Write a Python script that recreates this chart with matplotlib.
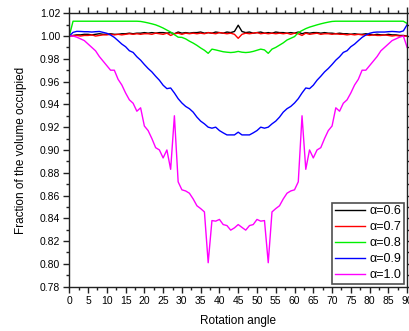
import matplotlib
matplotlib.use("Agg")
import matplotlib.pyplot as plt
from matplotlib.ticker import MultipleLocator

plt.rcParams['font.family'] = ['Liberation Sans', 'DejaVu Sans']

angles = list(range(0, 91))

labels = ["α=0.6", "α=0.7", "α=0.8", "α=0.9", "α=1.0"]
colors = ["#000000", "#ff0000", "#00f000", "#0000ff", "#ff00ff"]

a06 = [1.000, 1.0005, 1.001, 1.001, 1.0015, 1.0015, 1.001, 1.0015, 1.002, 1.0015,
       1.0015, 1.002, 1.0015, 1.0015, 1.002, 1.002, 1.0025, 1.002, 1.0025, 1.0025,
       1.003, 1.0025, 1.003, 1.0025, 1.003, 1.003, 1.0025, 1.003, 1.002, 1.0035,
       1.0025, 1.003, 1.0025, 1.003, 1.003, 1.0035, 1.0025, 1.003, 1.0025, 1.0035,
       1.003, 1.0025, 1.0035, 1.003, 1.004, 1.0095,
       1.004, 1.003, 1.0035, 1.0025, 1.003, 1.0035, 1.0025, 1.003, 1.0025, 1.0035,
       1.003, 1.003, 1.0025, 1.003, 1.0025, 1.0035, 1.002, 1.003, 1.0025, 1.003,
       1.003, 1.0025, 1.003, 1.0025, 1.0025, 1.002, 1.0025, 1.002, 1.002, 1.0015,
       1.002, 1.0015, 1.0015, 1.002, 1.0015, 1.001, 1.0015, 1.001, 1.001, 1.0015,
       1.001, 1.001, 1.0005, 1.0005, 1.000]

a07 = [1.000, 1.000, 1.0005, 1.000, 1.0005, 1.0005, 1.001, 1.000, 1.0005, 1.001,
       1.001, 1.0015, 1.001, 1.0015, 1.001, 1.0015, 1.002, 1.0015, 1.002, 1.0015,
       1.002, 1.002, 1.0015, 1.0025, 1.002, 1.0015, 1.0025, 1.0005, 1.002, 1.0025,
       1.0015, 1.0025, 1.002, 1.0025, 1.002, 1.0025, 1.002, 1.003, 1.0025, 1.002,
       1.003, 1.0025, 1.002, 1.0025, 1.0015, 0.998,
       1.0015, 1.0025, 1.002, 1.0025, 1.003, 1.002, 1.0025, 1.002, 1.0025, 1.002,
       1.0025, 1.002, 1.0025, 1.0015, 1.0025, 1.002, 1.0005, 1.0025, 1.0015, 1.002,
       1.0025, 1.0015, 1.002, 1.002, 1.0015, 1.002, 1.0015, 1.0015, 1.001, 1.0015,
       1.001, 1.0015, 1.001, 1.001, 1.0005, 1.001, 1.0005, 1.0005, 1.001, 1.0005,
       1.000, 1.0005, 1.000, 1.000, 1.000]

a08 = [1.000, 1.013, 1.013, 1.013, 1.013, 1.013, 1.013, 1.013, 1.013, 1.013,
       1.013, 1.013, 1.013, 1.013, 1.013, 1.013, 1.013, 1.013, 1.013, 1.0128,
       1.0122, 1.0115, 1.0107, 1.0098, 1.0085, 1.007, 1.0052, 1.0035, 1.0012, 0.999,
       0.9988, 0.9975, 0.9955, 0.9938, 0.9918, 0.9895, 0.9875, 0.9848, 0.9885, 0.9878,
       0.987, 0.9862, 0.9858, 0.9855, 0.9858, 0.9865,
       0.9858, 0.9855, 0.9858, 0.9865, 0.9875, 0.9885, 0.9878, 0.9848, 0.9885, 0.990,
       0.992, 0.994, 0.9965, 0.998, 0.9995, 1.003, 1.0048, 1.0065, 1.0078, 1.0088,
       1.0098, 1.0107, 1.0115, 1.0122, 1.0128, 1.013, 1.013, 1.013, 1.013, 1.013,
       1.013, 1.013, 1.013, 1.013, 1.013, 1.013, 1.013, 1.013, 1.013, 1.013,
       1.013, 1.013, 1.013, 1.013, 1.011]

a09 = [1.000, 1.0032, 1.0041, 1.004, 1.0038, 1.0038, 1.0035, 1.0038, 1.004, 1.0032,
       1.0024, 1.0009, 0.9988, 0.9959, 0.9929, 0.9906, 0.9871, 0.9856, 0.9818, 0.9788,
       0.975, 0.9715, 0.9685, 0.9647, 0.9612, 0.9568, 0.9538, 0.9544, 0.950, 0.945,
       0.9412, 0.9382, 0.9362, 0.9332, 0.9288, 0.9253, 0.9229, 0.920, 0.9191, 0.920,
       0.917, 0.915, 0.9132, 0.9132, 0.9132, 0.9156,
       0.9132, 0.9132, 0.9132, 0.915, 0.917, 0.920, 0.9191, 0.920, 0.9229, 0.9253,
       0.9288, 0.9332, 0.9362, 0.9382, 0.9412, 0.945, 0.950, 0.9544, 0.9538, 0.9568,
       0.9612, 0.9647, 0.9685, 0.9715, 0.975, 0.9788, 0.9818, 0.9856, 0.9871, 0.9906,
       0.9929, 0.9959, 0.9988, 1.0009, 1.0024, 1.0032, 1.0035, 1.0035, 1.0035, 1.0038,
       1.004, 1.0038, 1.0035, 1.0045, 1.010]

a10 = [1.000, 1.000, 0.999, 0.9975, 0.996, 0.993, 0.990, 0.987, 0.982, 0.978,
       0.974, 0.970, 0.970, 0.962, 0.957, 0.950, 0.944, 0.941, 0.934, 0.937,
       0.921, 0.917, 0.910, 0.902, 0.900, 0.893, 0.900, 0.883, 0.930, 0.872,
       0.865, 0.864, 0.862, 0.857, 0.851, 0.8485, 0.8456, 0.801, 0.838, 0.8375,
       0.839, 0.8345, 0.8336, 0.8296, 0.8316, 0.8345,
       0.832, 0.8296, 0.8336, 0.8345, 0.839, 0.8375, 0.838, 0.801, 0.8456, 0.8485,
       0.851, 0.857, 0.862, 0.864, 0.865, 0.872, 0.930, 0.883, 0.900, 0.893,
       0.900, 0.902, 0.910, 0.917, 0.921, 0.937, 0.934, 0.941, 0.944, 0.950,
       0.957, 0.962, 0.970, 0.970, 0.974, 0.978, 0.982, 0.987, 0.990, 0.993,
       0.996, 0.9975, 0.999, 1.000, 0.990]

series = [a06, a07, a08, a09, a10]

fig = plt.figure(figsize=(4.10, 3.31), dpi=100)
ax = fig.add_axes([0.169, 0.134, 0.824, 0.826])

for y, c, lab in zip(series, colors, labels):
    ax.plot(angles, y, color=c, lw=1.0, label=lab)

ax.set_xlim(0, 90)
ax.set_ylim(0.78, 1.02)
ax.xaxis.set_major_locator(MultipleLocator(5))
ax.xaxis.set_minor_locator(MultipleLocator(2.5))
ax.yaxis.set_major_locator(MultipleLocator(0.02))
ax.yaxis.set_minor_locator(MultipleLocator(0.01))
ax.yaxis.set_major_formatter(matplotlib.ticker.FormatStrFormatter('%.2f'))

ax.tick_params(which='both', direction='out', top=True, right=True,
               labeltop=False, labelright=False, width=1.0, color='#222222')
ax.tick_params(which='major', length=4.5, labelsize=7.5, pad=2)
ax.tick_params(which='minor', length=2.5)
for s in ax.spines.values():
    s.set_linewidth(1.0)
    s.set_color('#222222')

ax.set_xlabel("Rotation angle", fontsize=8.5, labelpad=7)
ax.set_ylabel("Fraction of the volume occupied", fontsize=8.5, labelpad=9)

leg = ax.legend(loc='lower right', fontsize=9, frameon=True, fancybox=False,
                borderaxespad=0.25, handlelength=2.4, handletextpad=0.4,
                labelspacing=0.32, borderpad=0.2)
leg.get_frame().set_edgecolor('#222222')
leg.get_frame().set_linewidth(1.2)

fig.savefig("out.png", dpi=100)
